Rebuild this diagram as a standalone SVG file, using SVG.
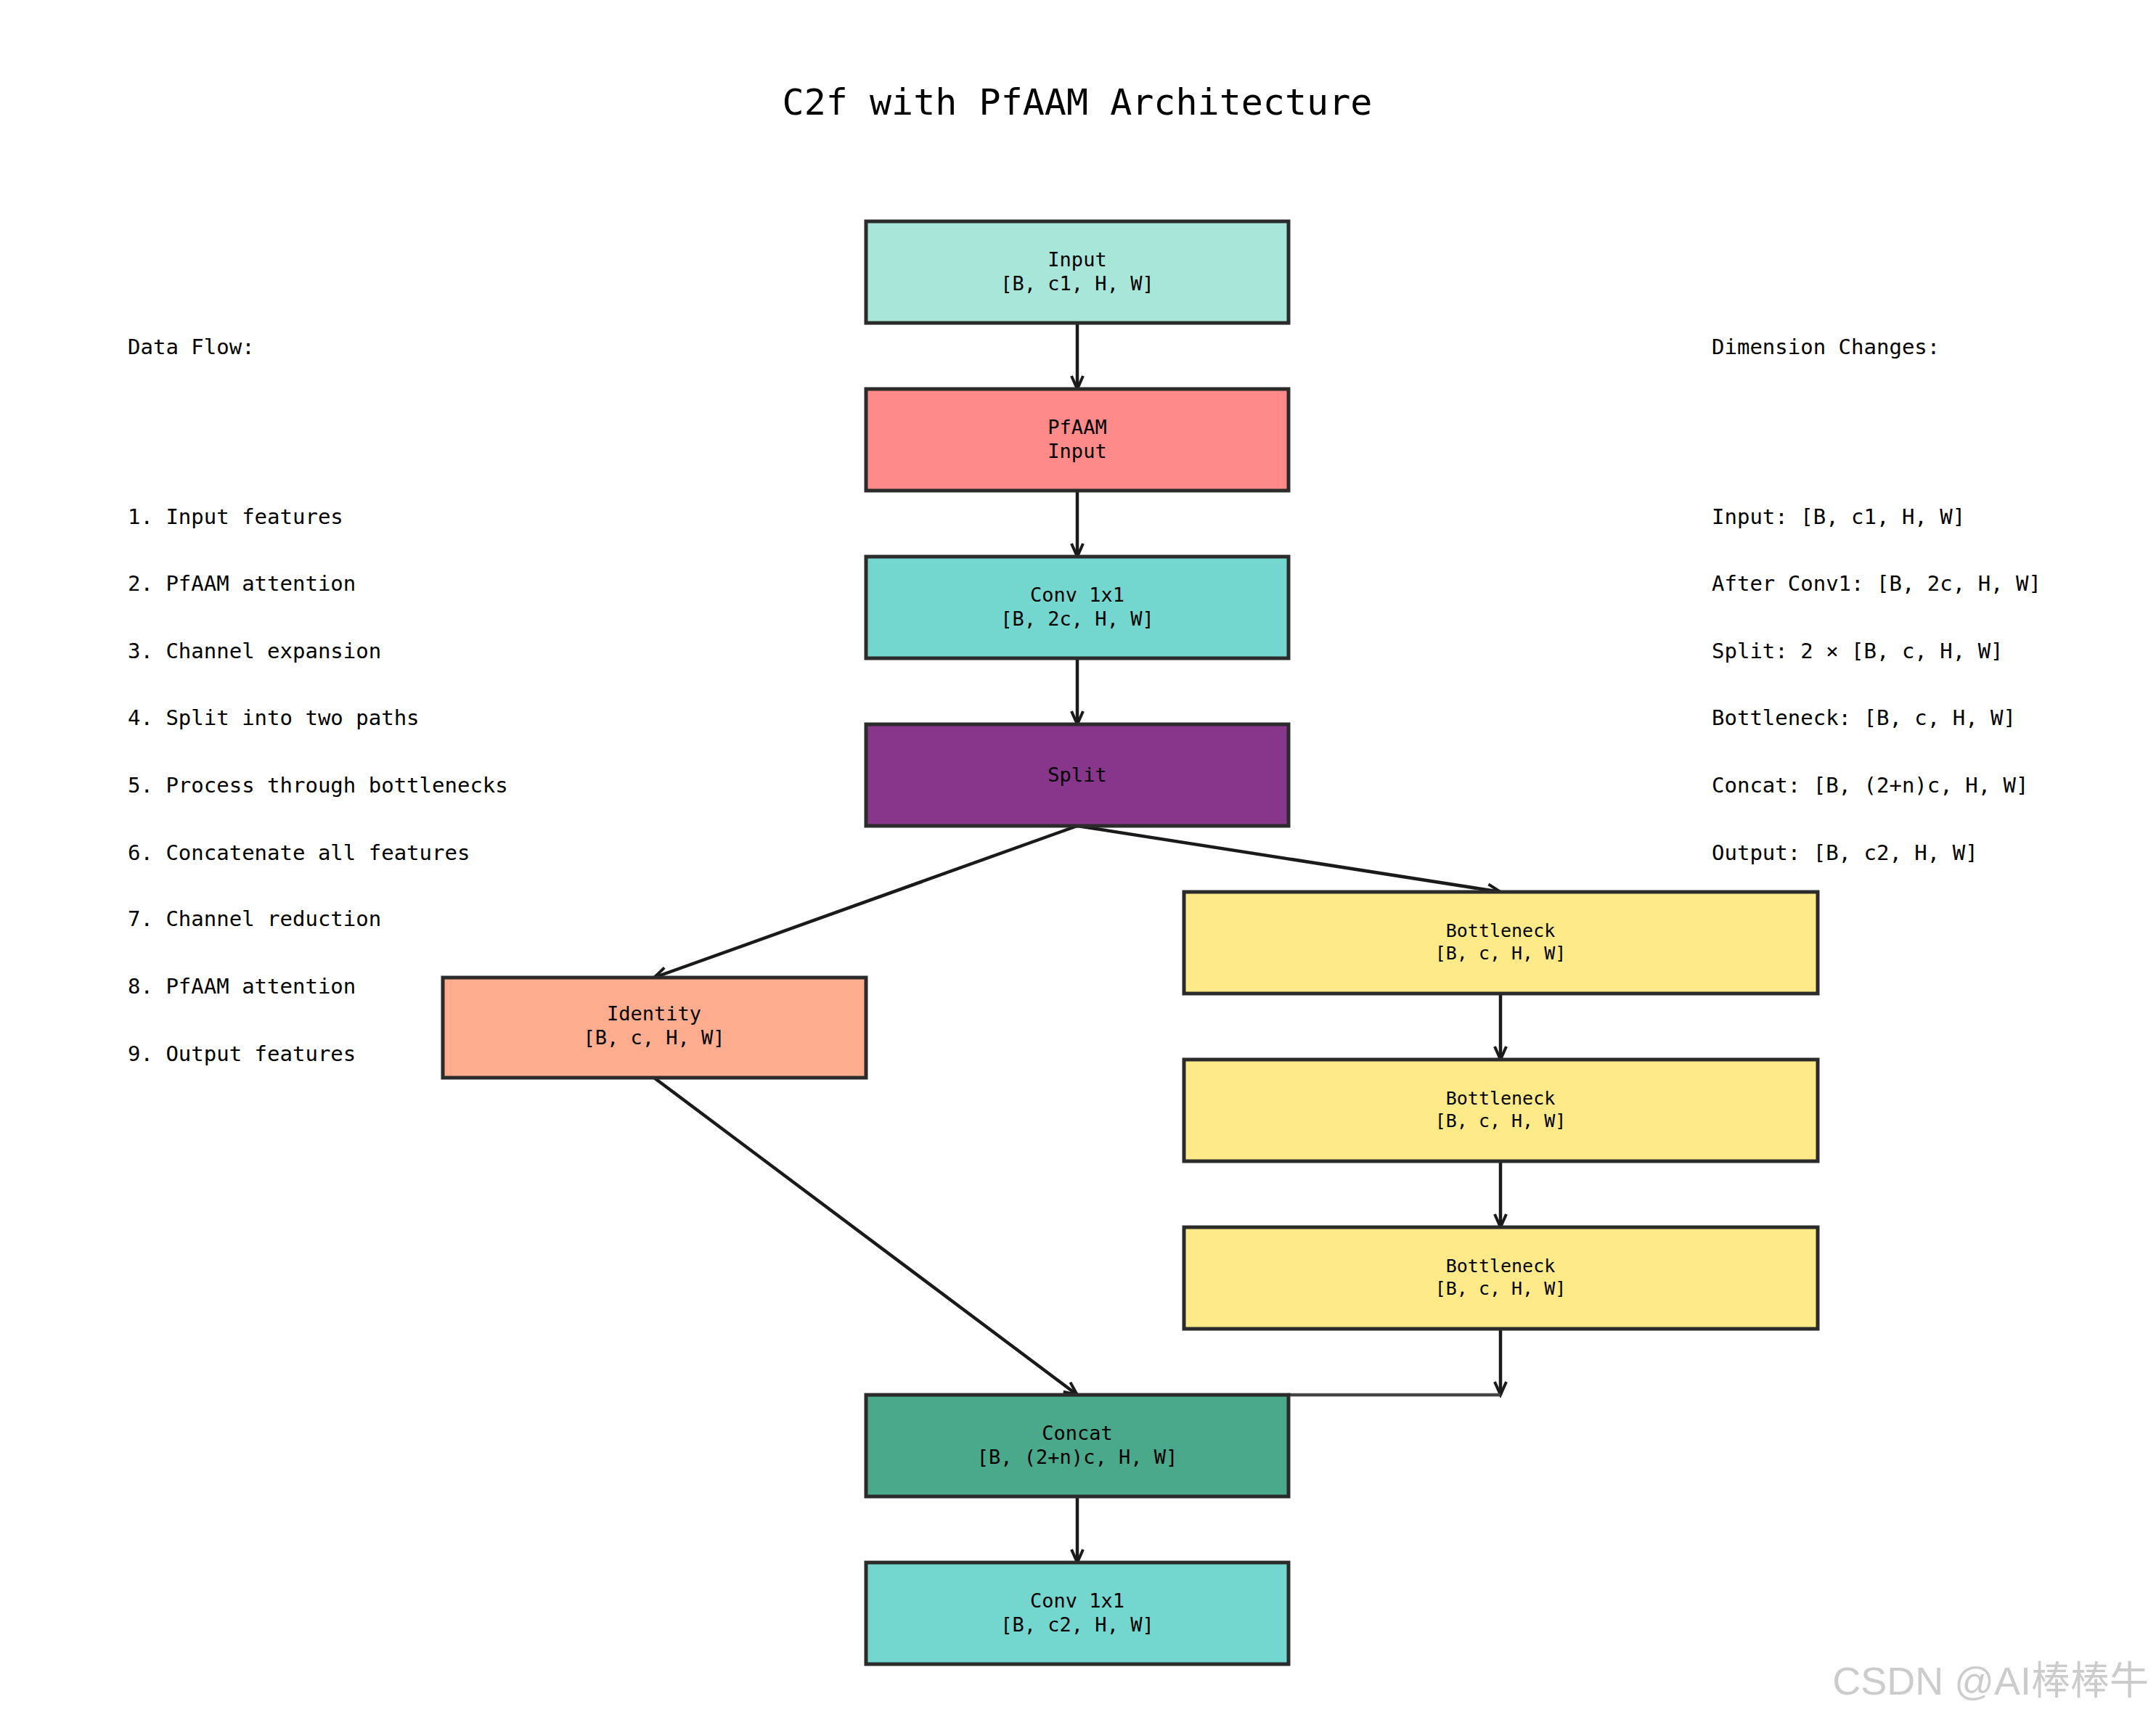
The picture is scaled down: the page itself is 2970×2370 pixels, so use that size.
<svg xmlns="http://www.w3.org/2000/svg" width="2970" height="2370" viewBox="0 0 2970 2370">
<style>
text{font-family:"DejaVu Sans Mono","Noto Sans CJK SC",monospace;fill:#000}
.n rect{stroke:#2b2b2b;stroke-width:5}
.n text{font-size:27px;text-anchor:middle}
.s{font-size:29px}
.c line{stroke:#1a1a1a;stroke-width:4.5;fill:none}
</style>
<defs><marker id="a" markerWidth="24" markerHeight="24" refX="20" refY="10" orient="auto" markerUnits="userSpaceOnUse"><path d="M2,2 L20,10 L2,18" fill="none" stroke="#1a1a1a" stroke-width="4"/></marker></defs>
<rect width="2970" height="2370" fill="#fff"/>
<text x="1484" y="158" font-size="50" text-anchor="middle">C2f with PfAAM Architecture</text>
<g class="c">
<line x1="1484" y1="445" x2="1484" y2="536" marker-end="url(#a)"/>
<line x1="1484" y1="676" x2="1484" y2="767" marker-end="url(#a)"/>
<line x1="1484" y1="907" x2="1484" y2="998" marker-end="url(#a)"/>
<line x1="1484" y1="1138" x2="901" y2="1347" marker-end="url(#a)"/>
<line x1="1484" y1="1138" x2="2067" y2="1229" marker-end="url(#a)"/>
<line x1="2067" y1="1369" x2="2067" y2="1460" marker-end="url(#a)"/>
<line x1="2067" y1="1600" x2="2067" y2="1691" marker-end="url(#a)"/>
<line x1="901" y1="1485" x2="1484" y2="1922" marker-end="url(#a)"/>
<line x1="2067" y1="1831" x2="2067" y2="1922" marker-end="url(#a)"/>
<line x1="2067" y1="1922" x2="1775" y2="1922" style="stroke:#444"/>
<line x1="1484" y1="2062" x2="1484" y2="2153" marker-end="url(#a)"/>
</g>
<g id="input" class="n"><rect x="1193" y="305" width="582" height="140" fill="#A8E6D9"/><text x="1484" y="367">Input</text><text x="1484" y="400">[B, c1, H, W]</text></g>
<g id="pfaam" class="n"><rect x="1193" y="536" width="582" height="140" fill="#FF8A8A"/><text x="1484" y="598">PfAAM</text><text x="1484" y="631">Input</text></g>
<g id="conv1" class="n"><rect x="1193" y="767" width="582" height="140" fill="#74D7CF"/><text x="1484" y="829">Conv 1x1</text><text x="1484" y="862">[B, 2c, H, W]</text></g>
<g id="split" class="n"><rect x="1193" y="998" width="582" height="140" fill="#88368C"/><text x="1484" y="1077">Split</text></g>
<g id="identity" class="n"><rect x="610" y="1347" width="583" height="138" fill="#FFAD8E"/><text x="901" y="1406">Identity</text><text x="901" y="1439">[B, c, H, W]</text></g>
<g id="bn1" class="n"><rect x="1631" y="1229" width="873" height="140" fill="#FFEA8A"/><text x="2067" y="1291" style="font-size:25px">Bottleneck</text><text x="2067" y="1322" style="font-size:25px">[B, c, H, W]</text></g>
<g id="bn2" class="n"><rect x="1631" y="1460" width="873" height="140" fill="#FFEA8A"/><text x="2067" y="1522" style="font-size:25px">Bottleneck</text><text x="2067" y="1553" style="font-size:25px">[B, c, H, W]</text></g>
<g id="bn3" class="n"><rect x="1631" y="1691" width="873" height="140" fill="#FFEA8A"/><text x="2067" y="1753" style="font-size:25px">Bottleneck</text><text x="2067" y="1784" style="font-size:25px">[B, c, H, W]</text></g>
<g id="concat" class="n"><rect x="1193" y="1922" width="582" height="140" fill="#4AA98B"/><text x="1484" y="1984">Concat</text><text x="1484" y="2017">[B, (2+n)c, H, W]</text></g>
<g id="conv2" class="n"><rect x="1193" y="2153" width="582" height="140" fill="#74D7CF"/><text x="1484" y="2215">Conv 1x1</text><text x="1484" y="2248">[B, c2, H, W]</text></g>
<g id="left">
<text class="s" x="176" y="488" font-size="32">Data Flow:</text>
<text class="s" x="176" y="722">1. Input features</text>
<text class="s" x="176" y="814">2. PfAAM attention</text>
<text class="s" x="176" y="907">3. Channel expansion</text>
<text class="s" x="176" y="999">4. Split into two paths</text>
<text class="s" x="176" y="1092">5. Process through bottlenecks</text>
<text class="s" x="176" y="1185">6. Concatenate all features</text>
<text class="s" x="176" y="1276">7. Channel reduction</text>
<text class="s" x="176" y="1369">8. PfAAM attention</text>
<text class="s" x="176" y="1462">9. Output features</text>
</g>
<g id="right">
<text class="s" x="2358" y="488" font-size="32">Dimension Changes:</text>
<text class="s" x="2358" y="722">Input: [B, c1, H, W]</text>
<text class="s" x="2358" y="814">After Conv1: [B, 2c, H, W]</text>
<text class="s" x="2358" y="907">Split: 2 × [B, c, H, W]</text>
<text class="s" x="2358" y="999">Bottleneck: [B, c, H, W]</text>
<text class="s" x="2358" y="1092">Concat: [B, (2+n)c, H, W]</text>
<text class="s" x="2358" y="1185">Output: [B, c2, H, W]</text>
</g>
<text x="2960" y="2335" font-size="54" text-anchor="end" style="fill:#ccc;font-family:'Liberation Sans','Noto Sans CJK SC',sans-serif">CSDN @AI棒棒牛</text>
</svg>
